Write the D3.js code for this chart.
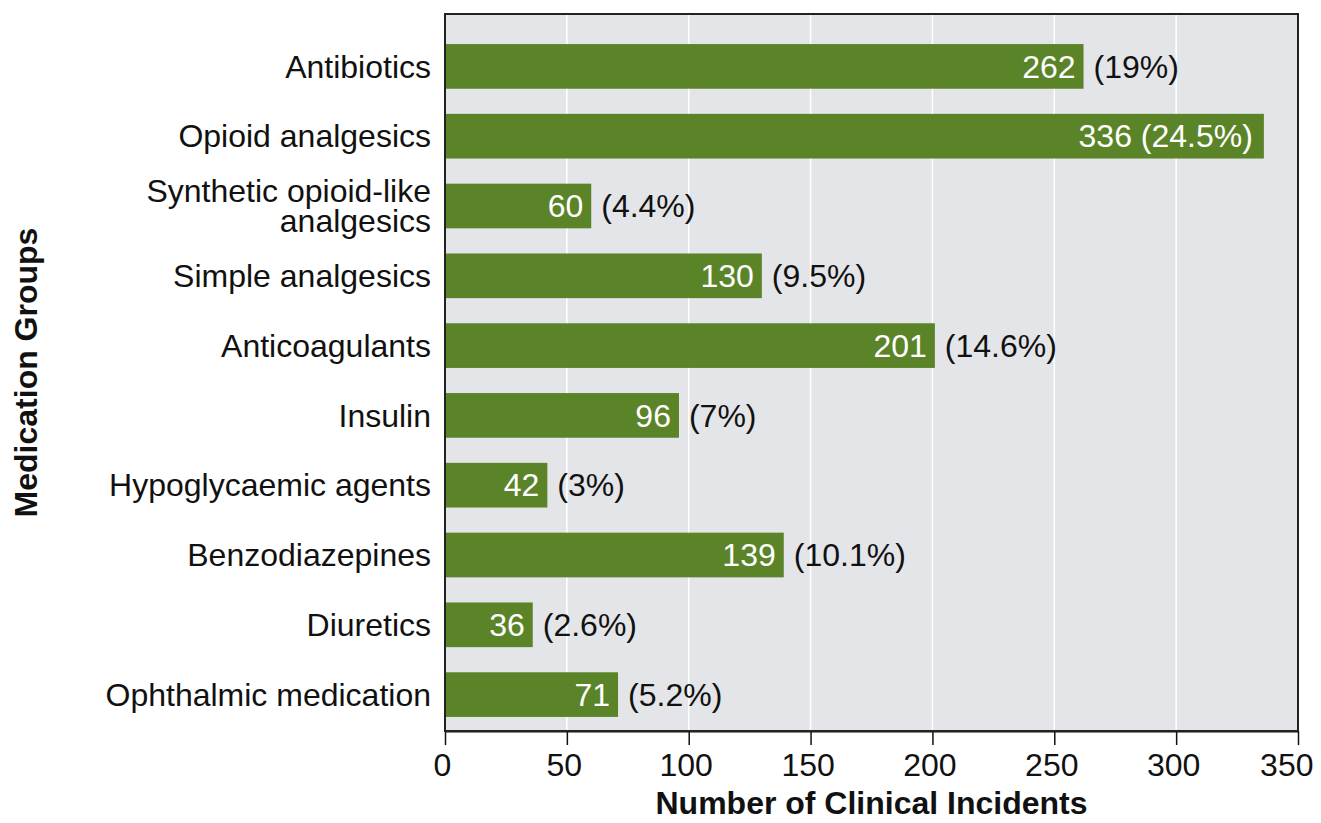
<!DOCTYPE html>
<html>
<head>
<meta charset="utf-8">
<script src="https://cdn.jsdelivr.net/npm/d3@7"></script>
<style>
  body { margin: 0; background: #fff; }
  svg text { font-family: "Liberation Sans", Arial, Helvetica, sans-serif; }
</style>
</head>
<body>
<div class="chart"></div>
<script>
const categories = [
  "Antibiotics",
  "Opioid analgesics",
  "Synthetic opioid-like|analgesics",
  "Simple analgesics",
  "Anticoagulants",
  "Insulin",
  "Hypoglycaemic agents",
  "Benzodiazepines",
  "Diuretics",
  "Ophthalmic medication"
];
const counts = [262, 336, 60, 130, 201, 96, 42, 139, 36, 71];
const percents = ["19%", "24.5%", "4.4%", "9.5%", "14.6%", "7%", "3%", "10.1%", "2.6%", "5.2%"];
const xTicks = [0, 50, 100, 150, 200, 250, 300, 350];

const width = 1321;
const height = 823;
const margin = { top: 14, right: 23, bottom: 92, left: 445 };
const innerWidth = width - margin.left - margin.right;
const innerHeight = height - margin.top - margin.bottom;

const barColor = "#5b8428";
const panelColor = "#e4e5e8";
const fontSize = 32;

const data = categories.map((c, i) => ({ name: c, value: counts[i], pct: percents[i] }));

let svg = d3.select(".chart")
  .append("svg")
  .attr("width", width)
  .attr("height", height);

let g = svg.append("g")
  .attr("transform", `translate(${margin.left},${margin.top})`);

const xScale = d3.scaleLinear()
  .domain([0, 350])
  .range([0, innerWidth]);

// bands leave a bit more room above the first bar than below the last
const yScale = d3.scaleBand()
  .domain(categories)
  .range([17.5, innerHeight - 1.5])
  .paddingInner(0.36)
  .paddingOuter(0.18);

// panel
g.append("rect")
  .attr("width", innerWidth)
  .attr("height", innerHeight)
  .attr("fill", panelColor);

// grid
g.selectAll(".grid")
  .data(xTicks.slice(1, -1))
  .enter().append("line")
    .attr("class", "grid")
    .attr("x1", d => xScale(d))
    .attr("x2", d => xScale(d))
    .attr("y1", 0)
    .attr("y2", innerHeight)
    .attr("stroke", "#fff")
    .attr("stroke-width", 1.5);

// bars
g.selectAll(".bar")
  .data(data)
  .enter().append("rect")
    .attr("class", "bar")
    .attr("x", 0)
    .attr("y", d => yScale(d.name))
    .attr("width", d => xScale(d.value))
    .attr("height", yScale.bandwidth())
    .attr("fill", barColor);

// value labels
const labels = g.selectAll(".lbl")
  .data(data)
  .enter().append("g")
    .attr("class", "lbl")
    .attr("transform", d => `translate(0, ${yScale(d.name) + yScale.bandwidth() / 2})`);

labels.each(function (d) {
  const el = d3.select(this);
  const pct = el.append("text")
    .attr("dy", "0.35em")
    .attr("font-size", fontSize)
    .text(`(${d.pct})`);
  const pctWidth = pct.node().getComputedTextLength();
  if (xScale(d.value) + 10 + pctWidth > innerWidth) {
    // no room outside: whole label goes inside the bar
    pct.remove();
    el.append("text")
      .attr("x", xScale(d.value) - 11)
      .attr("dy", "0.35em")
      .attr("text-anchor", "end")
      .attr("font-size", fontSize)
      .attr("fill", "#fff")
      .text(`${d.value} (${d.pct})`);
  } else {
    pct.attr("x", xScale(d.value) + 10).attr("fill", "#111");
    el.append("text")
      .attr("x", xScale(d.value) - 8)
      .attr("dy", "0.35em")
      .attr("text-anchor", "end")
      .attr("font-size", fontSize)
      .attr("fill", "#fff")
      .text(d.value);
  }
});

// category labels
g.selectAll(".cat")
  .data(categories)
  .enter().append("text")
    .attr("class", "cat")
    .attr("x", -14)
    .attr("y", d => yScale(d) + yScale.bandwidth() / 2)
    .attr("text-anchor", "end")
    .attr("font-size", fontSize)
    .attr("fill", "#111")
    .each(function (d) {
      const lines = d.split("|");
      const lh = 30;
      d3.select(this).selectAll("tspan")
        .data(lines)
        .enter().append("tspan")
          .attr("x", -14)
          .attr("dy", (l, i) => i === 0 ? (0.35 * fontSize - (lines.length - 1) * lh / 2) : lh)
          .text(l => l);
    });

// x axis
const xAxis = g.append("g")
  .attr("transform", `translate(0, ${innerHeight})`)
  .call(d3.axisBottom(xScale).tickValues(xTicks).tickSize(14).tickPadding(8).tickSizeOuter(0));
xAxis.select(".domain").attr("stroke", "#111").attr("stroke-width", 2);
xAxis.selectAll(".tick line").attr("stroke", "#111").attr("stroke-width", 1.5);
xAxis.selectAll(".tick text")
  .attr("font-size", fontSize)
  .attr("fill", "#111")
  .attr("font-family", null)
  .attr("x", -3);
// keep the last tick label inside the picture
xAxis.selectAll(".tick text")
  .filter(d => d === xTicks[xTicks.length - 1])
  .attr("text-anchor", "end")
  .attr("x", margin.right - 8);

// panel border
g.append("rect")
  .attr("width", innerWidth)
  .attr("height", innerHeight)
  .attr("fill", "none")
  .attr("stroke", "#222")
  .attr("stroke-width", 2);

// axis titles
svg.append("text")
  .attr("x", margin.left + innerWidth / 2)
  .attr("y", 814)
  .attr("text-anchor", "middle")
  .attr("font-size", fontSize)
  .attr("font-weight", "bold")
  .attr("fill", "#111")
  .text("Number of Clinical Incidents");

svg.append("text")
  .attr("transform", `translate(37, ${margin.top + innerHeight / 2}) rotate(-90)`)
  .attr("text-anchor", "middle")
  .attr("font-size", fontSize)
  .attr("font-weight", "bold")
  .attr("fill", "#111")
  .text("Medication Groups");
</script>
</body>
</html>
